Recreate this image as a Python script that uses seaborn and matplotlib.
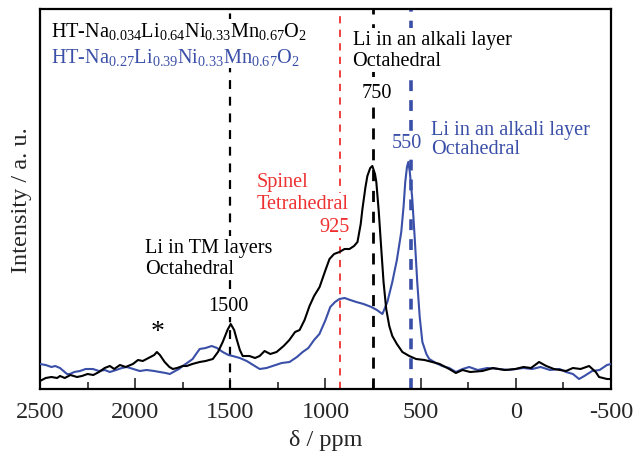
import numpy as np
import pandas as pd
import matplotlib
matplotlib.use('Agg')
import matplotlib.pyplot as plt
from matplotlib.ticker import MultipleLocator
import seaborn as sns

# chemical shift (ppm) and intensity (a. u.)
black_ppm = [2500, 2470, 2440, 2410, 2395, 2370, 2340, 2306, 2280, 2250, 2220, 2190, 2160, 2133,
             2110, 2080, 2050, 2012, 1985, 1960, 1930, 1900, 1886, 1870, 1845, 1820, 1802, 1780,
             1750, 1729, 1700, 1661, 1630, 1592, 1565, 1540, 1515, 1498, 1480, 1467, 1450, 1435,
             1400, 1370, 1346, 1320, 1290, 1257, 1220, 1190, 1160, 1136, 1110, 1084, 1060, 1031,
             1000, 979, 955, 927, 900, 874, 850, 832, 815, 806, 790, 780, 765, 754, 740, 733, 720,
             707, 695, 681, 665, 649, 625, 596, 560, 524, 480, 439, 400, 350, 315, 280, 240, 176,
             120, 60, 2, -40, -80, -122, -160, -200, -264, -300, -340, -385, -420, -437, -479, -500]
black_int = [1, 4, 5, 4, 6, 4, 7, 5, 6, 8, 7, 10, 14, 16,
             13, 17, 15, 18, 22, 21, 24, 27, 30, 27, 20, 15, 13, 14,
             16, 16, 18, 20, 21, 23, 30, 40, 52, 58, 52, 43, 32, 26,
             26, 24, 26, 31, 28, 30, 36, 42, 50, 52, 62, 76, 86, 95,
             112, 123, 128, 130, 133, 133, 136, 140, 158, 173, 195, 206, 214, 216, 208, 200, 170,
             133, 100, 73, 56, 46, 38, 30, 26, 23, 22, 20, 18, 13, 9, 12, 10, 11,
             14, 12, 13, 15, 14, 20, 16, 13, 11, 14, 13, 16, 10, 5, 3, 3]

blue_ppm = [2500, 2470, 2440, 2420, 2395, 2358, 2343, 2320, 2290, 2260, 2222, 2190, 2160, 2133,
            2100, 2070, 2044, 2010, 1976, 1940, 1900, 1871, 1840, 1818, 1790, 1770, 1750, 1720,
            1698, 1680, 1661, 1630, 1598, 1570, 1540, 1510, 1488, 1450, 1414, 1380, 1346, 1310,
            1278, 1230, 1189, 1150, 1120, 1090, 1060, 1032, 1000, 975, 950, 927, 900, 870, 838,
            800, 759, 730, 701, 675, 649, 625, 602, 590, 581, 572, 565, 557, 544, 530, 518, 505,
            491, 470, 455, 420, 387, 350, 315, 280, 245, 200, 150, 88, 40, 0, -40, -86, -130,
            -180, -230, -264, -300, -332, -360, -401, -440, -479, -500]
blue_int = [18, 17, 15, 16, 14, 8, 8, 10, 11, 13, 13, 11, 12, 10,
            12, 14, 15, 13, 11, 12, 11, 10, 9, 8, 11, 13, 16, 20,
            23, 28, 33, 34, 36, 34, 30, 27, 26, 24, 21, 17, 13, 14,
            16, 19, 20, 25, 30, 34, 42, 48, 62, 75, 80, 83, 84, 82, 80,
            78, 75, 72, 68, 80, 100, 122, 150, 175, 200, 215, 220, 210, 183, 140, 100, 65,
            40, 28, 23, 19, 16, 14, 10, 13, 15, 12, 14, 13, 12, 13, 14, 13, 15,
            12, 13, 10, 8, 3, 6, 11, 12, 17, 18]

black_name = 'HT-Na$_{0.034}$Li$_{0.64}$Ni$_{0.33}$Mn$_{0.67}$O$_2$'
blue_name = 'HT-Na$_{0.27}$Li$_{0.39}$Ni$_{0.33}$Mn$_{0.67}$O$_2$'

black_col = 'black'
blue_col = '#3a4fa8'
red_col = '#ee3030'

sns.set_style('white')
plt.rcParams['font.family'] = ['Liberation Serif', 'DejaVu Serif']
plt.rcParams['mathtext.fontset'] = 'custom'
plt.rcParams['mathtext.rm'] = 'Liberation Serif'
plt.rcParams['mathtext.it'] = 'Liberation Serif:italic'
plt.rcParams['axes.unicode_minus'] = False

df = pd.concat([
    pd.DataFrame({'ppm': black_ppm, 'I': black_int, 's': 'black'}),
    pd.DataFrame({'ppm': blue_ppm, 'I': blue_int, 's': 'blue'}),
])

fig = plt.figure(figsize=(6.33, 4.56), dpi=100)
ax = fig.add_axes([40 / 633, 1 - 390 / 456, 571 / 633, 380 / 456])

sns.lineplot(data=df, x='ppm', y='I', hue='s', palette={'black': black_col, 'blue': blue_col},
             hue_order=['blue', 'black'], sort=False, estimator=None, linewidth=1.5,
             legend=False, ax=ax, zorder=4)

# reference positions
ax.axvline(1500, color=black_col, ls=(0, (4, 3.5)), lw=1.6, zorder=1)
ax.axvline(750, color=black_col, ls=(0, (4, 3.5)), lw=2.0, zorder=1)
ax.axvline(925, color=red_col, ls=(0, (4, 3.5)), lw=1.3, zorder=1)
ax.axvline(550, color=blue_col, ls=(0, (3, 2.5)), lw=2.6, zorder=1)

ax.set_xlim(2500, -500)
ax.set_ylim(-7, 373)
ax.xaxis.set_minor_locator(MultipleLocator(250))
ax.set_xticks([2500, 2000, 1500, 1000, 500, 0, -500])
ax.set_xticklabels(['2500', '2000', '1500', '1000', '500', '0', '-500'])
ax.set_yticks([])
ax.tick_params(axis='x', which='both', direction='in', bottom=True, top=False,
               labelsize=17.5, pad=9)
ax.tick_params(axis='x', which='major', length=8, width=1.2)
ax.tick_params(axis='x', which='minor', length=5, width=1.2)
for sp in ax.spines.values():
    sp.set_linewidth(1.6)
    sp.set_color('black')

ax.set_xlabel('δ / ppm', fontsize=17.5, labelpad=5)
ax.set_ylabel('Intensity / a. u.', fontsize=17.5, labelpad=6)

wb = dict(facecolor='white', edgecolor='none', pad=1)
fs = 14.6
ax.text(2440, 351, black_name, fontsize=fs, color=black_col, va='center', ha='left', bbox=wb)
ax.text(2440, 326, blue_name, fontsize=fs, color=blue_col, va='center', ha='left', bbox=wb)

ax.text(1949, 135, 'Li in TM layers', fontsize=fs, color=black_col, va='center', ha='left', bbox=wb)
ax.text(1949, 113, 'Octahedral', fontsize=fs, color=black_col, va='center', ha='left', bbox=wb)
ax.text(1510, 76, '1500', fontsize=fs, color=black_col, va='center', ha='center', bbox=wb)
ax.text(1880, 50, '*', fontsize=20, color=black_col, va='center', ha='center')

ax.text(1362, 201, 'Spinel', fontsize=fs, color=red_col, va='center', ha='left', bbox=wb)
ax.text(1362, 178, 'Tetrahedral', fontsize=fs, color=red_col, va='center', ha='left', bbox=wb)
ax.text(953, 155, '925', fontsize=fs, color=red_col, va='center', ha='center', bbox=wb)

ax.text(858, 343, 'Li in an alkali layer', fontsize=fs, color=black_col, va='center', ha='left', bbox=wb)
ax.text(858, 321, 'Octahedral', fontsize=fs, color=black_col, va='center', ha='left', bbox=wb)
ax.text(732, 290, '750', fontsize=fs, color=black_col, va='center', ha='center', bbox=wb)

ax.text(444, 253, 'Li in an alkali layer', fontsize=fs, color=blue_col, va='center', ha='left')
ax.text(444, 233, 'Octahedral', fontsize=fs, color=blue_col, va='center', ha='left')
ax.text(570, 240, '550', fontsize=fs, color=blue_col, va='center', ha='center', bbox=wb)

plt.savefig('out.png', dpi=100)
